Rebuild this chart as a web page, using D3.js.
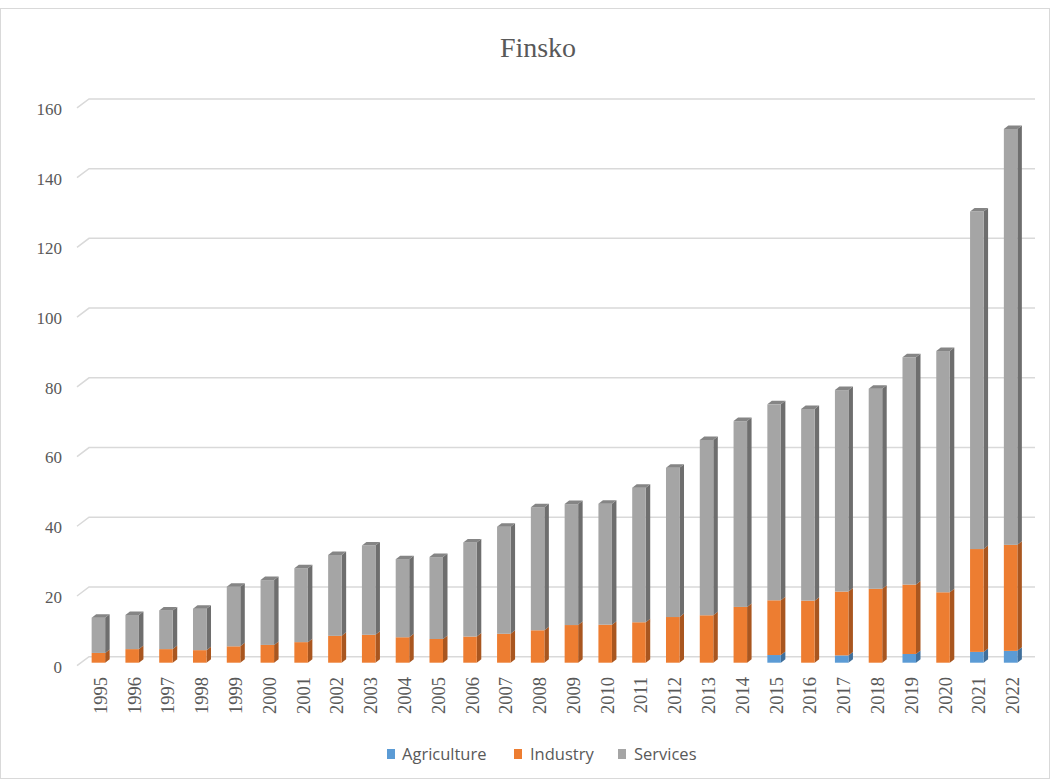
<!DOCTYPE html>
<html>
<head>
<meta charset="utf-8">
<script src="https://cdn.jsdelivr.net/npm/d3@7"></script>
<style>
  html, body { margin: 0; padding: 0; background: #fff; }
  svg { display: block; }
</style>
</head>
<body>
<svg id="chart" width="1059" height="780"></svg>
<script>
const years = ["1995","1996","1997","1998","1999","2000","2001","2002","2003","2004","2005","2006","2007","2008","2009","2010","2011","2012","2013","2014","2015","2016","2017","2018","2019","2020","2021","2022"];
const agriculture = [0,0,0,0,0,0,0,0,0,0,0,0,0,0,0,0,0,0,0,0,2.2,0,2.1,0,2.5,0,3.1,3.4];
const industry = [2.8,3.9,3.9,3.6,4.7,5.1,5.9,7.7,8.0,7.3,6.8,7.5,8.3,9.3,10.8,10.9,11.6,13.1,13.6,16.0,15.7,17.8,18.3,21.2,19.9,20.2,29.5,30.4];
const services = [10.1,9.8,11.1,11.9,17.1,18.6,21.2,23.2,25.6,22.4,23.5,27.0,30.7,35.3,34.7,34.7,38.6,42.8,50.3,53.3,56.2,55.0,57.8,57.4,65.2,69.2,96.8,119.3];
const seriesNames = ["Agriculture","Industry","Services"];
const yTicks = [0,20,40,60,80,100,120,140,160];
const title = "Finsko";

const colors = {
  Agriculture: {front:"#5B9BD5", side:"#3F6F9B", top:"#4A84B8"},
  Industry:    {front:"#ED7D31", side:"#A9561F", top:"#C8682A"},
  Services:    {front:"#A5A5A5", side:"#6E6E6E", top:"#858585"}
};

const svg = d3.select("#chart");
const textCol = "#595959";

// border
svg.append("rect").attr("x",0.5).attr("y",8.5).attr("width",1049).attr("height",770)
  .attr("fill","none").attr("stroke","#d9d9d9").attr("stroke-width",1);

// title
svg.append("text").attr("x",538).attr("y",57).attr("text-anchor","middle")
  .attr("font-family","'Liberation Serif', serif").attr("font-size",28).attr("fill",textCol)
  .text(title);

// scales
const yGrid = d3.scaleLinear().domain([0,160]).range([656.7, 98.9]);
const yBar  = d3.scaleLinear().domain([0,160]).range([662.7, 104.9]);
const x = d3.scaleBand().domain(years).range([81.5, 1027.5]).paddingInner(0.6).paddingOuter(0.3);
const depthX = 12, depthY = 9;
const gridRight = 1035;
const backLeft = 89;

// gridlines
const grid = svg.append("g");
yTicks.forEach(v => {
  const yb = yGrid(v);
  grid.append("path")
    .attr("d", `M${backLeft-depthX},${yb+depthY} L${backLeft},${yb} L${gridRight},${yb}`)
    .attr("fill","none").attr("stroke","#d9d9d9").attr("stroke-width",1.5);
  grid.append("text").attr("x",62).attr("y",yb+depthY+1).attr("dy","0.35em")
    .attr("text-anchor","end").attr("font-family","'Liberation Serif', serif")
    .attr("font-size",17).attr("fill",textCol).text(v);
});

// stacked data
const rows = years.map((y,i) => ({year:y, Agriculture:agriculture[i], Industry:industry[i], Services:services[i]}));
const stacked = d3.stack().keys(seriesNames)(rows);

const bw = x.bandwidth();
const dx = 4.5, dy = -3.5;
const bars = svg.append("g");
years.forEach((yr, i) => {
  const x0 = x(yr);
  let topIdx = -1;
  stacked.forEach((s, k) => { if (s[i][1] - s[i][0] > 0) topIdx = k; });
  stacked.forEach((s, k) => {
    const v0 = s[i][0], v1 = s[i][1];
    if (v1 - v0 <= 0) return;
    const c = colors[s.key];
    const yb = yBar(v0), yt = yBar(v1);
    // side
    bars.append("path")
      .attr("d", `M${x0+bw},${yb} L${x0+bw+dx},${yb+dy} L${x0+bw+dx},${yt+dy} L${x0+bw},${yt} Z`)
      .attr("fill", c.side);
    // front
    bars.append("rect").attr("x", x0).attr("y", yt).attr("width", bw).attr("height", yb - yt)
      .attr("fill", c.front);
    if (k === topIdx) {
      bars.append("path")
        .attr("d", `M${x0},${yt} L${x0+dx},${yt+dy} L${x0+bw+dx},${yt+dy} L${x0+bw},${yt} Z`)
        .attr("fill", c.top);
    }
  });
});

// x labels
const xl = svg.append("g");
years.forEach(yr => {
  const cx = x(yr) + bw/2 + 2;
  xl.append("text")
    .attr("transform", `translate(${cx},677) rotate(-90)`)
    .attr("text-anchor","end").attr("dy","0.35em")
    .attr("font-family","'Liberation Serif', serif").attr("font-size",18.5).attr("fill",textCol)
    .text(yr);
});

// legend
const legendItems = [
  {name:"Agriculture", sx:387, tx:402},
  {name:"Industry", sx:514, tx:530},
  {name:"Services", sx:618, tx:634}
];
const lg = svg.append("g");
legendItems.forEach(d => {
  lg.append("rect").attr("x", d.sx).attr("y", 749).attr("width", 8).attr("height", 10)
    .attr("fill", colors[d.name].front);
  lg.append("text").attr("x", d.tx).attr("y", 754).attr("dy","0.35em")
    .attr("font-family","'Open Sans', 'Liberation Sans', sans-serif").attr("font-size",16.5).attr("fill",textCol)
    .text(d.name);
});
</script>
</body>
</html>
